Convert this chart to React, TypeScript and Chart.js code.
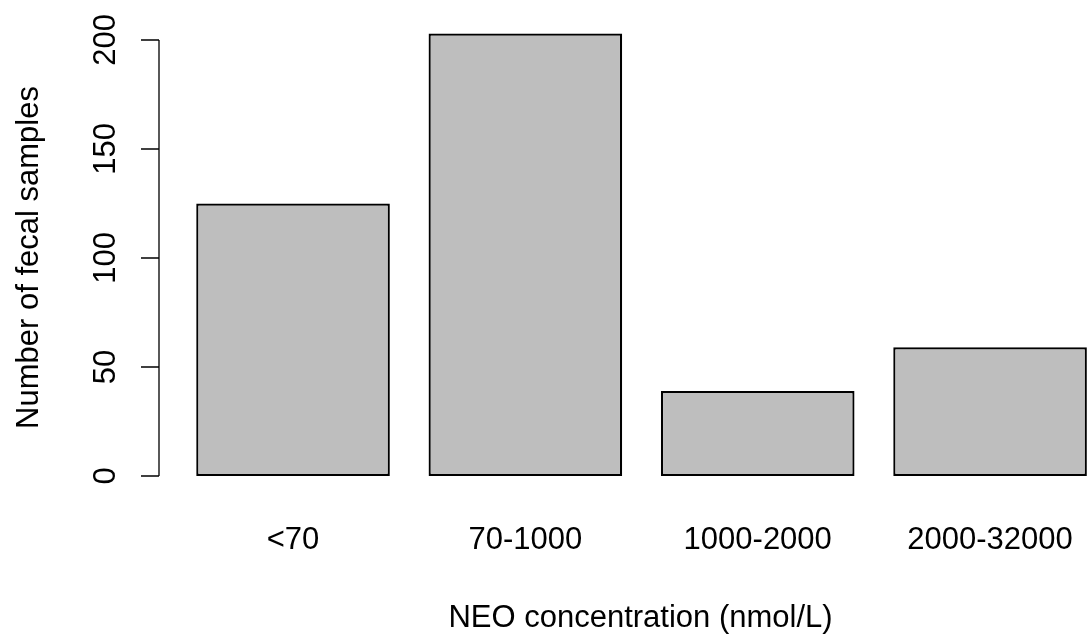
import React, { useEffect, useRef } from "react";
import { Chart, registerables } from "chart.js";

Chart.register(...registerables);

const categories: string[] = ["<70", "70-1000", "1000-2000", "2000-32000"];
const counts: number[] = [125, 203, 39, 59];
const yTicks: number[] = [0, 50, 100, 150, 200];
const xTitle = "NEO concentration (nmol/L)";
const yTitle = "Number of fecal samples";

const FONT = '31px "Liberation Sans", Arial, sans-serif';
const barCenter = (i: number) => 0.7 + 1.2 * i;

const axesPlugin = {
  id: "rAxes",
  afterDraw(chart: any) {
    const ctx = chart.ctx as CanvasRenderingContext2D;
    const xs = chart.scales.x;
    const ys = chart.scales.y;
    ctx.save();
    ctx.strokeStyle = "#000";
    ctx.fillStyle = "#000";
    ctx.lineWidth = 1.3;
    const axisX = 159;
    const y0 = ys.getPixelForValue(yTicks[0]);
    const y1 = ys.getPixelForValue(yTicks[yTicks.length - 1]);
    ctx.beginPath();
    ctx.moveTo(axisX, y0);
    ctx.lineTo(axisX, y1);
    yTicks.forEach((t) => {
      const py = ys.getPixelForValue(t);
      ctx.moveTo(141, py);
      ctx.lineTo(axisX, py);
    });
    ctx.stroke();

    ctx.font = FONT;
    ctx.textAlign = "center";
    ctx.textBaseline = "alphabetic";
    yTicks.forEach((t) => {
      const py = ys.getPixelForValue(t);
      ctx.save();
      ctx.translate(115, py);
      ctx.rotate(-Math.PI / 2);
      ctx.fillText(String(t), 0, 0);
      ctx.restore();
    });

    categories.forEach((c, i) => {
      const px = xs.getPixelForValue(barCenter(i));
      ctx.fillText(c, px, 549);
    });

    ctx.fillText(xTitle, 640.5, 627);

    ctx.save();
    ctx.translate(38, 257.5);
    ctx.rotate(-Math.PI / 2);
    ctx.fillText(yTitle, 0, 0);
    ctx.restore();

    ctx.restore();
  },
};

export default function App() {
  const ref = useRef<HTMLCanvasElement | null>(null);
  useEffect(() => {
    if (!ref.current) return;
    const chart = new Chart(ref.current, {
      type: "bar",
      data: {
        datasets: [
          {
            data: counts.map((v, i) => ({ x: barCenter(i), y: v })),
            backgroundColor: "#BEBEBE",
            borderColor: "#000",
            borderWidth: 2.2,
            borderSkipped: false,
            barPercentage: 1 / 1.2,
            categoryPercentage: 1,
          },
        ],
      },
      options: {
        animation: false,
        responsive: false,
        layout: { padding: { left: 157.5, right: 0, top: 16, bottom: 140.56 } },
        scales: {
          x: {
            type: "linear",
            min: 0,
            max: 4.811,
            offset: false,
            display: false,
            afterBuildTicks: (s: any) => {
              s.ticks = categories.map((_, i) => ({ value: barCenter(i) }));
            },
          },
          y: { type: "linear", min: -8, max: 211, display: false },
        },
        plugins: { legend: { display: false }, tooltip: { enabled: false } },
      },
      plugins: [axesPlugin],
    });
    return () => chart.destroy();
  }, []);
  return (
    <div style={{ position: "fixed", left: 0, top: 0, width: 1089, height: 634, background: "#fff" }}>
      <canvas ref={ref} width={1089} height={634} />
    </div>
  );
}
